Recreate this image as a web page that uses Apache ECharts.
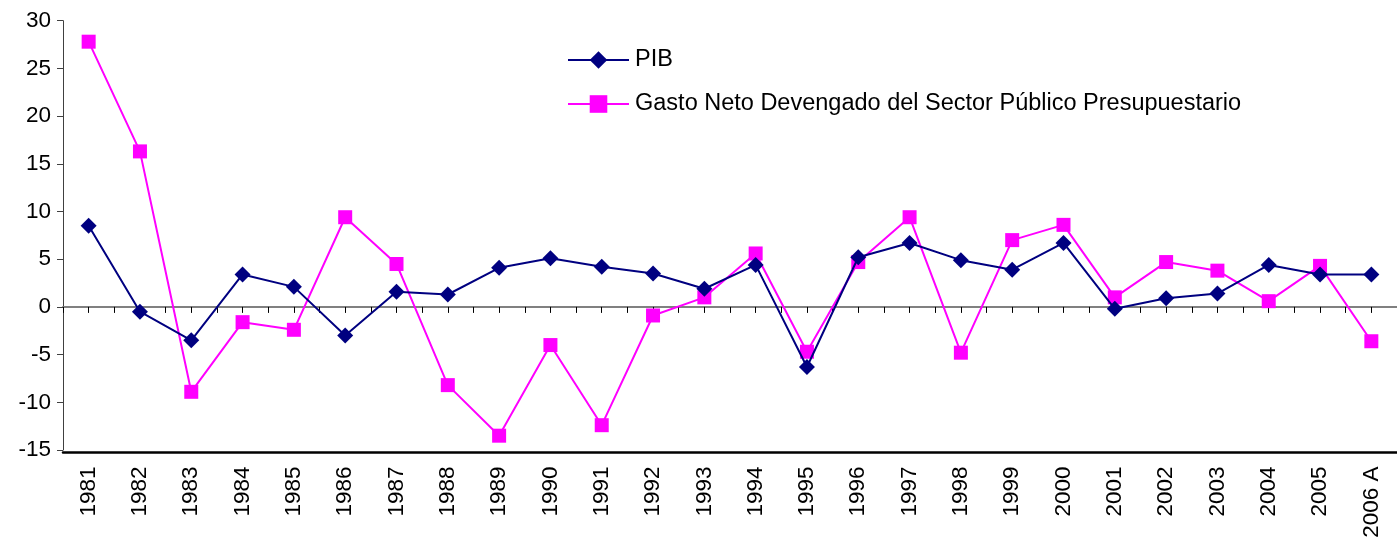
<!DOCTYPE html>
<html>
<head>
<meta charset="utf-8">
<script src="https://cdn.jsdelivr.net/npm/echarts@6/dist/echarts.min.js"></script>
<style>
html,body{margin:0;padding:0;background:#fff;}
#chart{width:1397px;height:548px;}
</style>
</head>
<body>
<div id="chart"></div>
<script>
var categories = ['1981','1982','1983','1984','1985','1986','1987','1988','1989','1990','1991','1992','1993','1994','1995','1996','1997','1998','1999','2000','2001','2002','2003','2004','2005','2006 A'];
var pib = [8.5,-0.5,-3.5,3.4,2.1,-3.0,1.6,1.3,4.1,5.1,4.2,3.5,1.9,4.4,-6.3,5.2,6.7,4.9,3.9,6.7,-0.2,0.9,1.4,4.4,3.4,3.4];
var gasto = [27.8,16.3,-8.9,-1.6,-2.4,9.4,4.5,-8.2,-13.5,-4.0,-12.4,-0.9,1.0,5.6,-4.7,4.7,9.4,-4.8,7.0,8.6,1.0,4.7,3.8,0.6,4.3,-3.6];
var seriesNames = ['PIB','Gasto Neto Devengado del Sector Público Presupuestario'];
var yTicks = {min:-15, max:30, interval:5};

var FONT = '"Liberation Sans", Arial, sans-serif';
var chart = echarts.init(document.getElementById('chart'), null, {renderer:'canvas'});
chart.setOption({
  animation: false,
  backgroundColor: '#ffffff',
  textStyle: {fontFamily: FONT},
  grid: {left: 63, top: 20.7, width: 1338, height: 429.3, containLabel: false},
  legend: {
    orient: 'vertical',
    left: 567, top: 48,
    padding: 0,
    itemWidth: 61, itemHeight: 22, itemGap: 20,
    textStyle: {fontSize: 23.5, color: '#000', fontFamily: FONT, padding: [0,0,0,1]},
    data: seriesNames
  },
  xAxis: [{
    type: 'category',
    data: categories,
    boundaryGap: true,
    position: 'bottom',
    offset: 2.5,
    axisLine: {onZero: false, lineStyle: {color: '#000', width: 2.5}},
    axisTick: {show: false},
    axisLabel: {rotate: 90, fontSize: 22.5, color: '#000', margin: 14, fontFamily: FONT, interval: 0},
    splitLine: {show: false}
  }, {
    type: 'value',
    min: 0, max: categories.length, interval: 0.5,
    position: 'top',
    axisLine: {onZero: true, lineStyle: {color: '#808080', width: 2}},
    axisTick: {show: true, inside: true, length: 6, lineStyle: {color: '#000', width: 1}},
    axisLabel: {show: false},
    splitLine: {show: false}
  }],
  yAxis: {
    type: 'value',
    min: yTicks.min, max: yTicks.max, interval: yTicks.interval,
    axisLine: {show: true, onZero: false, lineStyle: {color: '#404040', width: 1}},
    axisTick: {show: true, length: 6, lineStyle: {color: '#404040'}},
    axisLabel: {fontSize: 22.5, color: '#000', margin: 12, fontFamily: FONT},
    splitLine: {show: false}
  },
  series: [{
    name: seriesNames[0],
    type: 'line',
    xAxisIndex: 0,
    data: pib,
    symbol: 'diamond',
    symbolSize: 16,
    lineStyle: {color: '#000080', width: 2},
    itemStyle: {color: '#000080'},
    z: 3
  }, {
    name: seriesNames[1],
    type: 'line',
    xAxisIndex: 0,
    data: gasto,
    symbol: 'rect',
    symbolSize: 14,
    lineStyle: {color: '#FF00FF', width: 2},
    itemStyle: {color: '#FF00FF'},
    z: 2
  }]
});
</script>
</body>
</html>
